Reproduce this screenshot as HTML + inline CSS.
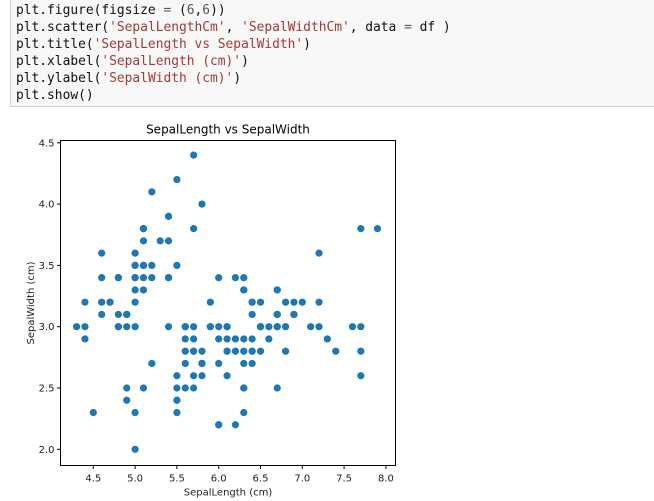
<!DOCTYPE html>
<html><head><meta charset="utf-8"><style>
body{margin:0;width:654px;height:501px;background:#fff;overflow:hidden;position:relative;font-family:"DejaVu Sans","Liberation Sans",sans-serif}
#code{position:absolute;left:10px;top:-2px;width:660px;height:109px;background:#f7f7f7;border:1px solid #cfcfcf;box-sizing:border-box;font-family:"DejaVu Sans Mono","Liberation Mono",monospace;font-size:12.9px;line-height:17px;padding:3px 0 0 5px;white-space:pre;color:#111}
.s{color:#a33a3a}.n{color:#555}.o{color:#555}
</style></head><body>
<div id="code">plt.figure(figsize <span class="o">=</span> (<span class="n">6</span>,<span class="n">6</span>))
plt.scatter(<span class="s">'SepalLengthCm'</span>, <span class="s">'SepalWidthCm'</span>, data <span class="o">=</span> df )
plt.title(<span class="s">'SepalLength vs SepalWidth'</span>)
plt.xlabel(<span class="s">'SepalLength (cm)'</span>)
plt.ylabel(<span class="s">'SepalWidth (cm)'</span>)
plt.show()</div>
<svg id="chart" width="654" height="501" style="position:absolute;left:0;top:0"></svg>
<script>
const sepalLength=[5.1,4.9,4.7,4.6,5.0,5.4,4.6,5.0,4.4,4.9,5.4,4.8,4.8,4.3,5.8,5.7,5.4,5.1,5.7,5.1,5.4,5.1,4.6,5.1,4.8,5.0,5.0,5.2,5.2,4.7,4.8,5.4,5.2,5.5,4.9,5.0,5.5,4.9,4.4,5.1,5.0,4.5,4.4,5.0,5.1,4.8,5.1,4.6,5.3,5.0,
7.0,6.4,6.9,5.5,6.5,5.7,6.3,4.9,6.6,5.2,5.0,5.9,6.0,6.1,5.6,6.7,5.6,5.8,6.2,5.6,5.9,6.1,6.3,6.1,6.4,6.6,6.8,6.7,6.0,5.7,5.5,5.5,5.8,6.0,5.4,6.0,6.7,6.3,5.6,5.5,5.5,6.1,5.8,5.0,5.6,5.7,5.7,6.2,5.1,5.7,
6.3,5.8,7.1,6.3,6.5,7.6,4.9,7.3,6.7,7.2,6.5,6.4,6.8,5.7,5.8,6.4,6.5,7.7,7.7,6.0,6.9,5.6,7.7,6.3,6.7,7.2,6.2,6.1,6.4,7.2,7.4,7.9,6.4,6.3,6.1,7.7,6.3,6.4,6.0,6.9,6.7,6.9,5.8,6.8,6.7,6.7,6.3,6.5,6.2,5.9];
const sepalWidth=[3.5,3.0,3.2,3.1,3.6,3.9,3.4,3.4,2.9,3.1,3.7,3.4,3.0,3.0,4.0,4.4,3.9,3.5,3.8,3.8,3.4,3.7,3.6,3.3,3.4,3.0,3.4,3.5,3.4,3.2,3.1,3.4,4.1,4.2,3.1,3.2,3.5,3.1,3.0,3.4,3.5,2.3,3.2,3.5,3.8,3.0,3.8,3.2,3.7,3.3,
3.2,3.2,3.1,2.3,2.8,2.8,3.3,2.4,2.9,2.7,2.0,3.0,2.2,2.9,2.9,3.1,3.0,2.7,2.2,2.5,3.2,2.8,2.5,2.8,2.9,3.0,2.8,3.0,2.9,2.6,2.4,2.4,2.7,2.7,3.0,3.4,3.1,2.3,3.0,2.5,2.6,3.0,2.6,2.3,2.7,3.0,2.9,2.9,2.5,2.8,
3.3,2.7,3.0,2.9,3.0,3.0,2.5,2.9,2.5,3.6,3.2,2.7,3.0,2.5,2.8,3.2,3.0,3.8,2.6,2.2,3.2,2.8,2.8,2.7,3.3,3.2,2.8,3.0,2.8,3.0,2.8,3.8,2.8,2.8,2.6,3.0,3.4,3.1,3.0,3.1,3.1,3.1,2.7,3.2,3.3,3.0,2.5,3.0,3.4,3.0];
const xTicks=[4.5,5.0,5.5,6.0,6.5,7.0,7.5,8.0];
const yTicks=[2.0,2.5,3.0,3.5,4.0,4.5];
const NS='http://www.w3.org/2000/svg',svg=document.getElementById('chart');
const L=60.5,R=395.5,T=140.5,B=465.5;
const x=v=>93.3+(v-4.5)*83.6;
const y=v=>449.3-(v-2.0)*122.6;
function mk(t,a,txt){const e=document.createElementNS(NS,t);for(const k in a)e.setAttribute(k,a[k]);if(txt!=null)e.textContent=txt;svg.appendChild(e);return e;}
sepalLength.forEach((v,i)=>{const c=mk('circle',{cx:x(v),cy:y(sepalWidth[i]),r:3.6,fill:'#1f77b4'});

});
const fr=mk('rect',{x:L,y:T,width:R-L,height:B-T,fill:'none',stroke:'#000','stroke-width':1});


xTicks.forEach(v=>{mk('line',{x1:x(v),x2:x(v),y1:B,y2:B+3.5,stroke:'#000'});
const t=mk('text',{x:x(v),y:B+16,'font-size':10,'text-anchor':'middle',fill:'#222'},v.toFixed(1));

});
yTicks.forEach(v=>{mk('line',{x1:L-3.5,x2:L,y1:y(v),y2:y(v),stroke:'#000'});
const t=mk('text',{x:L-6,y:y(v)+3.5,'font-size':10,'text-anchor':'end',fill:'#222'},v.toFixed(1));

});
const ti=mk('text',{x:(L+R)/2,y:T-7,'font-size':12,'text-anchor':'middle',fill:'#000'},'SepalLength vs SepalWidth');


const xl=mk('text',{x:(L+R)/2,y:B+30,'font-size':10,'text-anchor':'middle',fill:'#222'},'SepalLength (cm)');


const yl=mk('text',{x:0,y:0,'font-size':10,'text-anchor':'middle',fill:'#222',transform:`translate(34,${(T+B)/2}) rotate(-90)`},'SepalWidth (cm)');


</script>
</body></html>
